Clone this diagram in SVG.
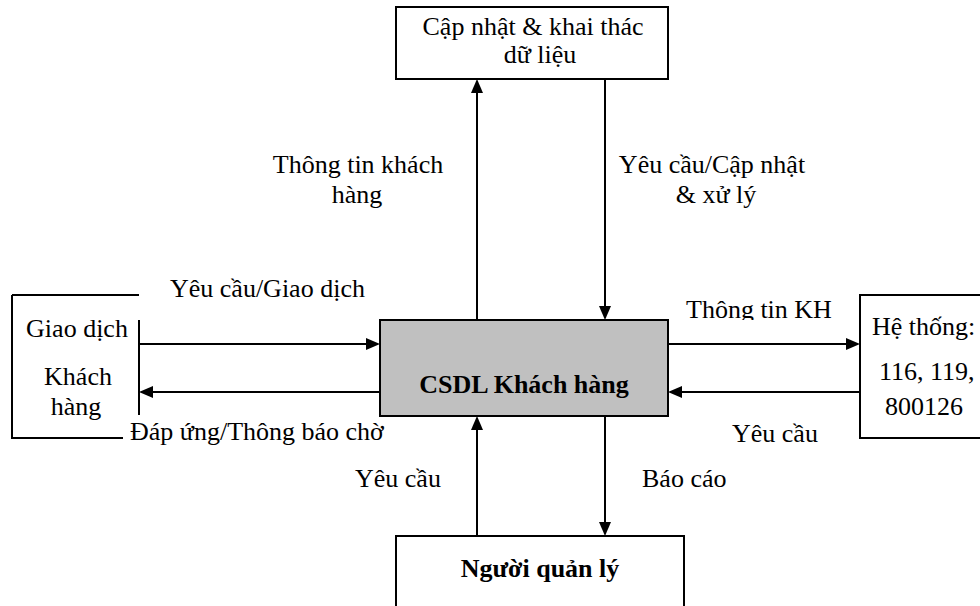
<svg xmlns="http://www.w3.org/2000/svg" width="980" height="606" viewBox="0 0 980 606">
<style>
text{font-family:"Liberation Serif","Times New Roman",serif;font-size:26px;fill:#000}
.b{font-weight:bold}
.box{fill:#fff;stroke:#000;stroke-width:2}
.edge{fill:none;stroke:#000;stroke-width:2}
.conn{fill:none;stroke:#000;stroke-width:2}
</style>
<defs>
<marker id="ah" markerUnits="userSpaceOnUse" markerWidth="14" markerHeight="12" refX="11" refY="6" orient="auto">
<path d="M0,0 L14,6 L0,12 z" fill="#000"/>
</marker>
<clipPath id="clipKH"><rect x="670" y="280" width="200" height="40"/></clipPath>
<clipPath id="clipDap"><rect x="120" y="416" width="290" height="40"/></clipPath>
</defs>
<rect width="980" height="606" fill="#fff"/>

<g id="connectors">
<line class="conn" x1="477" y1="320" x2="477" y2="82" marker-end="url(#ah)"/>
<line class="conn" x1="605" y1="79" x2="605" y2="317" marker-end="url(#ah)"/>
<line class="conn" x1="139" y1="344" x2="377" y2="344" marker-end="url(#ah)"/>
<line class="conn" x1="380" y1="392" x2="142" y2="392" marker-end="url(#ah)"/>
<line class="conn" x1="668" y1="344" x2="857" y2="344" marker-end="url(#ah)"/>
<line class="conn" x1="860" y1="392" x2="671" y2="392" marker-end="url(#ah)"/>
<line class="conn" x1="477" y1="536" x2="477" y2="419" marker-end="url(#ah)"/>
<line class="conn" x1="605" y1="416" x2="605" y2="533" marker-end="url(#ah)"/>
</g>

<g id="node-capnhat">
<rect class="box" x="396" y="7" width="272" height="72"/>
<text x="533" y="35" text-anchor="middle">Cập nhật &amp; khai thác</text>
<text x="540" y="63" text-anchor="middle">dữ liệu</text>
</g>

<g id="node-csdl">
<rect x="380" y="320" width="288" height="96" fill="#c0c0c0" stroke="#000" stroke-width="2"/>
<text class="b" x="524" y="393" text-anchor="middle">CSDL Khách hàng</text>
</g>

<g id="node-giaodich">
<path class="edge" d="M12,295 H139 M12,295 V438 H123 M139,320 V415"/>
<text x="77" y="337" text-anchor="middle">Giao dịch</text>
<text x="78" y="385" text-anchor="middle">Khách</text>
<text x="76" y="415" text-anchor="middle">hàng</text>
</g>

<g id="node-hethong">
<path class="edge" d="M985,295 H860 V438 H985"/>
<text x="872" y="335">Hệ thống:</text>
<text x="879" y="380">116, 119,</text>
<text x="885" y="415">800126</text>
</g>

<g id="node-quanly">
<path class="edge" d="M396,610 V536 H684 V610"/>
<text class="b" x="540" y="577" text-anchor="middle">Người quản lý</text>
</g>

<g id="labels">
<text x="358" y="173" text-anchor="middle">Thông tin khách</text>
<text x="357" y="203" text-anchor="middle">hàng</text>
<text x="712" y="173" text-anchor="middle">Yêu cầu/Cập nhật</text>
<text x="716" y="203" text-anchor="middle">&amp; xử lý</text>
<text x="170" y="297">Yêu cầu/Giao dịch</text>
<text x="686" y="318" clip-path="url(#clipKH)">Thông tin KH</text>
<text x="130" y="440" clip-path="url(#clipDap)">Đáp ứng/Thông báo chờ</text>
<text x="732" y="442">Yêu cầu</text>
<text x="355" y="487">Yêu cầu</text>
<text x="642" y="487">Báo cáo</text>
</g>
</svg>
